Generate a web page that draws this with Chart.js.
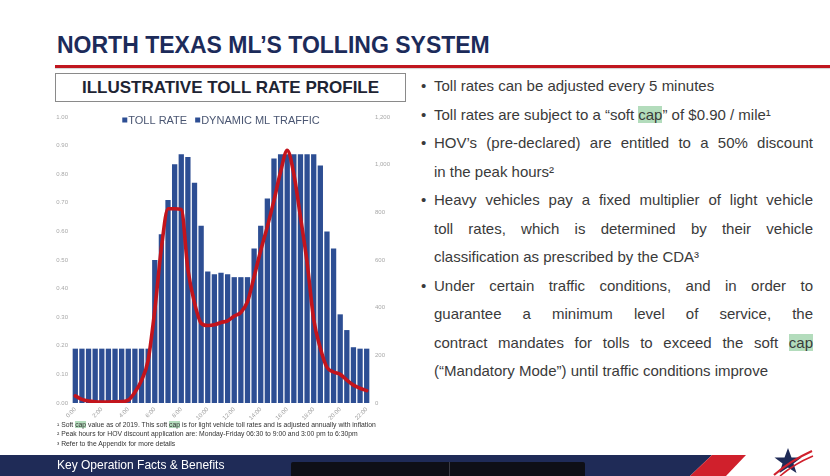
<!DOCTYPE html>
<html><head><meta charset="utf-8">
<script src="https://cdn.jsdelivr.net/npm/chart.js@4.4.1/dist/chart.umd.min.js"></script>
<style>
html,body{margin:0;padding:0;background:#fff;}
body{width:830px;height:476px;position:relative;overflow:hidden;font-family:"Liberation Sans",Arial,sans-serif;}
#title{position:absolute;left:57px;top:32px;font-size:23px;font-weight:bold;color:#1c2b5a;white-space:nowrap;}
#rule{position:absolute;left:55px;right:0;top:65px;height:3px;background:#c0161f;box-shadow:0 1px 1px rgba(0,0,0,0.18);}
#box{position:absolute;left:55px;top:73px;width:349px;height:27px;border:1px solid #8a8a8a;box-sizing:content-box;text-align:center;line-height:27px;font-weight:bold;font-size:17px;color:#1e2433;white-space:nowrap;}
#bullets{position:absolute;left:421px;top:72px;width:392px;color:#3a3a3a;font-size:15px;line-height:28.5px;}
.item{position:relative;padding-left:13px;}
.item:before{content:"\2022";position:absolute;left:0;top:0;}
.ln{display:block;white-space:nowrap;}
.j{text-align:justify;text-align-last:justify;white-space:normal;}
.hl{background:#b3dcbc;}
#notes{position:absolute;left:57px;top:420px;font-size:6.8px;line-height:9.3px;color:#333;white-space:nowrap;}
#chartWrap{position:absolute;left:44px;top:104px;width:360px;height:318px;}
#footer{position:absolute;left:0;top:455px;width:830px;height:21px;}
#navy{position:absolute;left:0;top:0;width:712px;height:21px;background:#1f2b57;clip-path:polygon(0 0,100% 0,690px 100%,0 100%);}
#red{position:absolute;left:690px;top:0;width:56px;height:21px;background:#d0202c;clip-path:polygon(22px 0,56px 0,36px 100%,0 100%);}
#ftxt{position:absolute;left:57px;top:3px;color:#fff;font-size:12px;line-height:15px;white-space:nowrap;}
#blk{position:absolute;left:291px;top:7px;width:294px;height:14px;background:#0e0f16;border-radius:2px 2px 0 0;}
#blk:after{content:"";position:absolute;left:158px;top:0;width:1px;height:14px;background:#3a3b44;}
#logo{position:absolute;left:768px;top:447px;}
</style></head>
<body>
<div id="title">NORTH TEXAS ML’S TOLLING SYSTEM</div>
<div id="rule"></div>
<div id="box">ILLUSTRATIVE TOLL RATE PROFILE</div>
<div id="bullets">
  <div class="item"><span class="ln">Toll rates can be adjusted every 5 minutes</span></div>
  <div class="item"><span class="ln">Toll rates are subject to a “soft <span class="hl">cap</span>” of $0.90 / mile¹</span></div>
  <div class="item"><span class="ln j">HOV’s (pre-declared) are entitled to a 50% discount</span><span class="ln">in the peak hours²</span></div>
  <div class="item"><span class="ln j">Heavy vehicles pay a fixed multiplier of light vehicle</span><span class="ln j">toll rates, which is determined by their vehicle</span><span class="ln">classification as prescribed by the CDA³</span></div>
  <div class="item"><span class="ln j">Under certain traffic conditions, and in order to</span><span class="ln j">guarantee a minimum level of service, the</span><span class="ln j">contract mandates for tolls to exceed the soft <span class="hl">cap</span></span><span class="ln">(“Mandatory Mode”) until traffic conditions improve</span></div>
</div>
<div id="chartWrap"><canvas id="c" width="360" height="318"></canvas></div>
<div id="notes">
  <div>¹ Soft <span class="hl">cap</span> value as of 2019. This soft <span class="hl">cap</span> is for light vehicle toll rates and is adjusted annually with inflation</div>
  <div>² Peak hours for HOV discount application are: Monday-Friday 06:30 to 9:00 and 3:00 pm to 6:30pm</div>
  <div>³ Refer to the Appendix for more details</div>
</div>
<div id="footer">
  <div id="navy"></div><div id="red"></div>
  <div id="ftxt">Key Operation Facts &amp; Benefits</div>
  <div id="blk"></div>
</div>
<svg id="logo" width="46" height="29" viewBox="0 0 46 29">
  <polygon points="20,1 23.5,10.5 33.5,10.5 25.5,16.5 28.5,26 20,20.5 11.5,26 14.5,16.5 6.5,10.5 16.5,10.5" fill="#1f2b57"/>
  <path d="M6 28 Q22 14 44 4" stroke="#d0202c" stroke-width="2.2" fill="none"/>
  <path d="M12 29 Q26 17 45 9" stroke="#d0202c" stroke-width="1.6" fill="none"/>
</svg>
<script>
// Categories: half-hour intervals
const timeCategories = ["0:00","0:30","1:00","1:30","2:00","2:30","3:00","3:30","4:00","4:30","5:00","5:30",
  "6:00","6:30","7:00","7:30","8:00","8:30","9:00","9:30","10:00","10:30","11:00","11:30",
  "12:00","12:30","13:00","13:30","14:00","14:30","15:00","15:30","16:00","16:30","17:00","17:30",
  "18:00","18:30","19:00","19:30","20:00","20:30","21:00","21:30","22:00"];
// Tick labels shown on the x axis
const xTickLabels = ["0:00","2:00","4:00","6:00","8:00","10:00","12:00","14:00","16:00","18:00","20:00","22:00"];
// Toll rate ($/mile), left axis
const tollRate = [0.19,0.19,0.19,0.19,0.19,0.19,0.19,0.19,0.19,0.19,0.19,0.19,
  0.50,0.59,0.71,0.835,0.87,0.86,0.77,0.62,
  0.46,0.45,0.455,0.45,0.44,0.44,0.44,
  0.54,0.62,0.715,0.855,0.87,0.87,0.87,0.87,0.87,0.87,0.83,0.60,0.54,
  0.31,0.255,0.195,0.19,0.19];
// Dynamic ML traffic (vehicles), right axis
const mlTraffic = [30,15,8,5,4,4,5,6,12,45,95,180,
  390,650,815,815,812,560,420,335,
  325,328,338,345,365,380,425,
  530,640,740,850,970,1060,960,780,590,350,230,150,
  130,120,96,75,62,52];
const seriesNames = ["TOLL RATE","DYNAMIC ML TRAFFIC"];

const BAR = '#2d4e93';
const FONT = '"Liberation Sans", Arial, sans-serif';

const topLegend = {
  id:'topLegend',
  afterDraw(chart){
    const ctx = chart.ctx, ca = chart.chartArea;
    ctx.save();
    ctx.font = '11px ' + FONT;
    ctx.textBaseline = 'middle';
    const sq = 5, gapIcon = 1, gapItem = 8;
    const items = chart.data.datasets.map(d => d.label);
    const widths = items.map(t => sq + gapIcon + ctx.measureText(t).width);
    const total = widths.reduce((a,b)=>a+b,0) + gapItem*(items.length-1);
    let x = (ca.left + ca.right)/2 - total/2;
    const y = ca.top + 3;
    items.forEach((t,i) => {
      ctx.fillStyle = BAR;
      ctx.fillRect(x, y - sq/2, sq, sq);
      ctx.fillStyle = '#4a5672';
      ctx.fillText(t, x + sq + gapIcon, y + 0.5);
      x += widths[i] + gapItem;
    });
    ctx.restore();
  }
};

const tickFont = {size:6, family:FONT};
new Chart(document.getElementById('c'), {
  data:{
    labels: timeCategories,
    datasets:[
      {type:'bar', label:seriesNames[0], data:tollRate, yAxisID:'y', backgroundColor:BAR,
       categoryPercentage:0.8, barPercentage:1.0, order:1},
      {type:'line', label:seriesNames[1], data:mlTraffic, yAxisID:'y1', borderColor:'#c3141c', borderWidth:3.6,
       pointRadius:0, tension:0.4, cubicInterpolationMode:'monotone', fill:false, order:0, borderCapStyle:'round'}
    ]
  },
  options:{
    responsive:false, animation:false, devicePixelRatio:1,
    layout:{padding:{top:13,left:0,right:0,bottom:0}},
    plugins:{legend:{display:false}, tooltip:{enabled:false}},
    scales:{
      x:{grid:{display:false, drawTicks:false}, border:{display:false},
         ticks:{autoSkip:false, minRotation:45, maxRotation:45, font:tickFont, color:'#9c9c9c', padding:3,
           callback:function(v, i){ const c = timeCategories[i]; return xTickLabels.includes(c) ? c : ''; }},
         afterFit:s=>{ s.height = 19; }},
      y:{position:'left', min:0, max:1, grid:{display:false, drawTicks:false}, border:{display:false},
         ticks:{stepSize:0.1, font:tickFont, color:'#a8a8a8', padding:4, callback:v=>Number(v).toFixed(2)},
         afterFit:s=>{ s.width = 28; }},
      y1:{position:'right', min:0, max:1200, grid:{display:false, drawTicks:false}, border:{display:false},
         ticks:{stepSize:200, font:tickFont, color:'#a8a8a8', padding:5},
         afterFit:s=>{ s.width = 34; }}
    }
  },
  plugins:[topLegend]
});
</script>
</body></html>
